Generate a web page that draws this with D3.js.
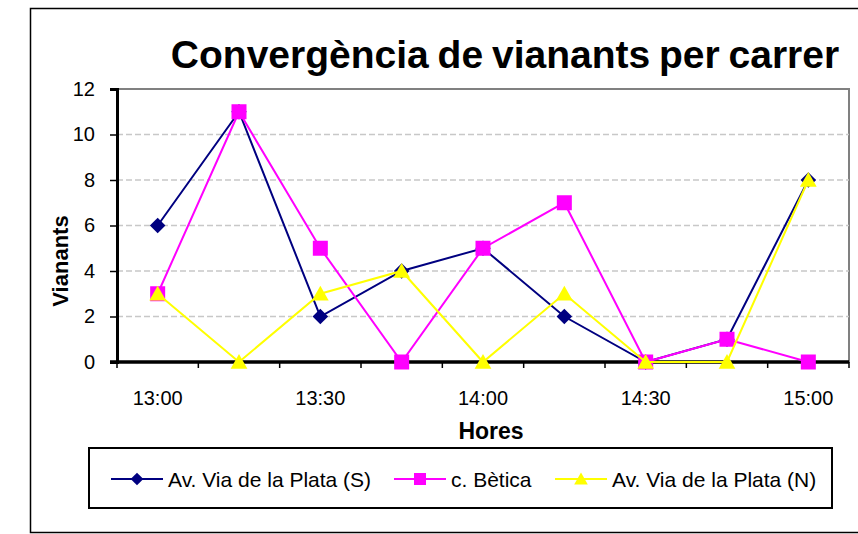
<!DOCTYPE html>
<html>
<head>
<meta charset="utf-8">
<script src="https://cdn.jsdelivr.net/npm/d3@7"></script>
<style>
  body { margin: 0; background: #fff; }
  svg { font-family: "Liberation Sans", Arial, sans-serif; }
</style>
</head>
<body>
<svg width="858" height="534"></svg>
<script>
var hores = ["13:00", "13:15", "13:30", "13:45", "14:00", "14:15", "14:30", "14:45", "15:00"];
var sud = [6, 11, 2, 4, 5, 2, 0, 1, 8];
var betica = [3, 11, 5, 0, 5, 7, 0, 1, 0];
var nord = [3, 0, 3, 4, 0, 3, 0, 0, 8];
var yTicks = [0, 2, 4, 6, 8, 10, 12];

var series = [
  {name: "Av. Via de la Plata (S)", values: sud, color: "#000080", shape: "diamond"},
  {name: "c. Bètica", values: betica, color: "#ff00ff", shape: "square"},
  {name: "Av. Via de la Plata (N)", values: nord, color: "#ffff00", shape: "triangle"}
];

var svg = d3.select("svg"),
    width = +svg.attr("width"),
    height = +svg.attr("height");

var margin = {left: 117, top: 89, right: 849, bottom: 362};

// outer chart frame
svg.append("rect")
    .attr("x", 30.5).attr("y", 8.5)
    .attr("width", 840).attr("height", 524)
    .attr("fill", "none").attr("stroke", "#000").attr("stroke-width", 1.5);

var x = d3.scaleBand()
    .domain(hores)
    .range([margin.left, margin.right]);

var y = d3.scaleLinear()
    .domain([0, 12])
    .range([margin.bottom, margin.top]);

// plot border
svg.append("rect")
    .attr("x", margin.left).attr("y", margin.top)
    .attr("width", margin.right - margin.left).attr("height", margin.bottom - margin.top)
    .attr("fill", "none").attr("stroke", "#808080").attr("stroke-width", 2);

// gridlines
svg.append("g")
  .selectAll("line")
  .data(yTicks.filter(function(d) { return d > 0 && d < 12; }))
  .enter().append("line")
    .attr("x1", margin.left).attr("x2", margin.right)
    .attr("y1", function(d) { return y(d); })
    .attr("y2", function(d) { return y(d); })
    .attr("stroke", "#c8c8c8")
    .attr("stroke-width", 1.5)
    .attr("stroke-dasharray", "6,3");

// y axis
var yAxis = svg.append("g")
    .attr("transform", "translate(" + margin.left + ",0)")
    .call(d3.axisLeft(y).tickValues(yTicks).tickSize(7).tickPadding(15));
yAxis.select(".domain").attr("stroke-width", 3);
yAxis.selectAll(".tick line").attr("stroke-width", 1.5);
yAxis.selectAll("text").style("font-size", "20px").attr("fill", "#000");

// x axis, ticks between categories
var xAxis = svg.append("g")
    .attr("transform", "translate(0," + margin.bottom + ")");
xAxis.append("line")
    .attr("x1", margin.left - 7).attr("x2", margin.right)
    .attr("stroke", "#000").attr("stroke-width", 3.5);
var bounds = hores.map(function(d) { return x(d); }).concat([margin.right]);
xAxis.selectAll(".xt")
  .data(bounds)
  .enter().append("line")
    .attr("class", "xt")
    .attr("x1", function(d) { return d; }).attr("x2", function(d) { return d; })
    .attr("y1", 0).attr("y2", 6)
    .attr("stroke", "#000").attr("stroke-width", 1.5);
xAxis.selectAll(".xl")
  .data(hores.filter(function(d, i) { return i % 2 === 0; }))
  .enter().append("text")
    .attr("class", "xl")
    .attr("x", function(d) { return x(d) + x.bandwidth() / 2; })
    .attr("y", 43)
    .attr("text-anchor", "middle")
    .style("font-size", "20px")
    .text(function(d) { return d; });

// titles
svg.append("text")
    .attr("x", 505).attr("y", 68)
    .attr("text-anchor", "middle")
    .style("font-size", "39px").style("font-weight", "bold")
    .style("word-spacing", "-2px")
    .text("Convergència de vianants per carrer");

svg.append("text")
    .attr("x", 491).attr("y", 439)
    .attr("text-anchor", "middle")
    .style("font-size", "23px").style("font-weight", "bold")
    .text("Hores");

svg.append("text")
    .attr("transform", "translate(68,261) rotate(-90)")
    .attr("text-anchor", "middle")
    .style("font-size", "22px").style("font-weight", "bold")
    .text("Vianants");

function marker(sel, shape, color, s) {
  if (shape === "diamond") {
    sel.append("path").attr("d", d3.symbol(d3.symbolSquare, s * s)())
        .attr("transform", "rotate(45)")
        .attr("fill", color);
  } else if (shape === "square") {
    sel.append("rect").attr("x", -s / 2).attr("y", -s / 2)
        .attr("width", s).attr("height", s).attr("fill", color);
  } else {
    sel.append("path").attr("d", "M0," + (-s * 0.6) + "L" + (s * 0.62) + "," + (s * 0.5) + "L" + (-s * 0.62) + "," + (s * 0.5) + "Z")
        .attr("fill", color);
  }
}

var sizes = {diamond: 11, square: 15, triangle: 13.5};

var line = d3.line()
    .x(function(d, i) { return x(hores[i]) + x.bandwidth() / 2; })
    .y(function(d) { return y(d); });

series.forEach(function(s) {
  var g = svg.append("g");
  g.append("path")
      .datum(s.values)
      .attr("d", line)
      .attr("fill", "none")
      .attr("stroke", s.color)
      .attr("stroke-width", 2);
  g.selectAll(".pt")
    .data(s.values)
    .enter().append("g")
      .attr("class", "pt")
      .attr("transform", function(d, i) {
        return "translate(" + (x(hores[i]) + x.bandwidth() / 2) + "," + y(d) + ")";
      })
      .each(function() { marker(d3.select(this), s.shape, s.color, sizes[s.shape]); });
});

// legend
var legend = svg.append("g");
legend.append("rect")
    .attr("x", 89).attr("y", 448)
    .attr("width", 743).attr("height", 60)
    .attr("fill", "#fff").attr("stroke", "#000").attr("stroke-width", 2);

var legX = [111, 394, 555];
series.forEach(function(s, i) {
  var g = legend.append("g").attr("transform", "translate(" + legX[i] + ",479)");
  g.append("line").attr("x1", 0).attr("x2", 52)
      .attr("stroke", s.color).attr("stroke-width", 2);
  var m = g.append("g").attr("transform", "translate(26,0)");
  marker(m, s.shape, s.color, s.shape === "diamond" ? 9 : (s.shape === "square" ? 12 : 11));
  g.append("text")
      .attr("x", 57).attr("y", 8)
      .style("font-size", "21px")
      .text(s.name);
});
</script>
</body>
</html>
